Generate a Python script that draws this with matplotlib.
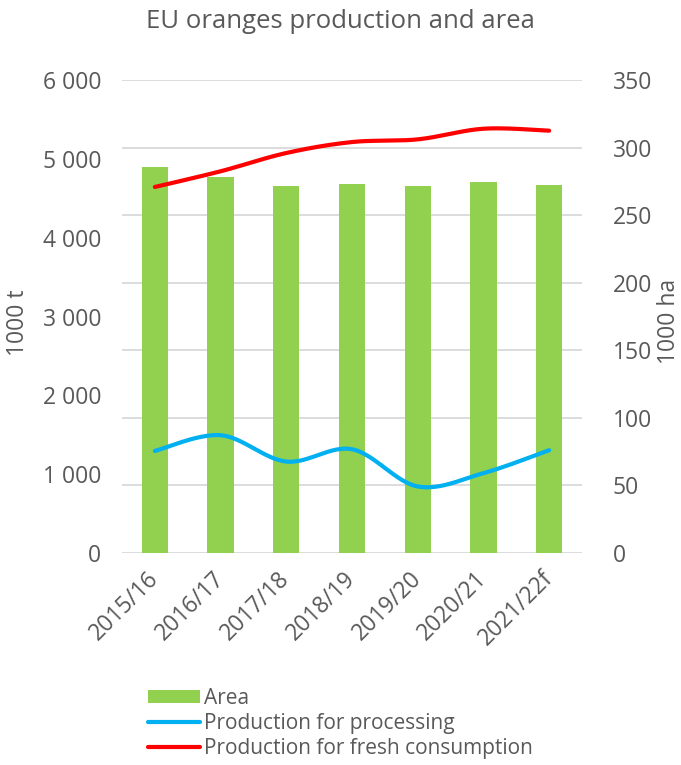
import matplotlib
matplotlib.use("Agg")
import matplotlib.pyplot as plt
import numpy as np
from matplotlib.lines import Line2D
from matplotlib.patches import Patch

categories = ["2015/16", "2016/17", "2017/18", "2018/19", "2019/20", "2020/21", "2021/22f"]
area = [285.4, 278.0, 271.8, 273.1, 271.3, 274.5, 272.6]          # 1000 ha
processing = [1295, 1494, 1160, 1316, 844, 1013, 1304]           # 1000 t
fresh = [4643, 4842, 5074, 5213, 5247, 5382, 5357]               # 1000 t
left_ticks = [0, 1000, 2000, 3000, 4000, 5000, 6000]
right_ticks = [0, 50, 100, 150, 200, 250, 300, 350]

TXT = "#595959"
plt.rcParams["font.family"] = ["Open Sans", "DejaVu Sans"]
FS = 16.5


def smooth(xs, ys, n=30):
    """Excel-like smoothed line (Catmull-Rom Bezier) through the data points."""
    xs = np.asarray(xs, float)
    ys = np.asarray(ys, float)
    px, py = [], []
    m = len(xs)
    for i in range(m - 1):
        i0, i3 = max(i - 1, 0), min(i + 2, m - 1)
        p0 = np.array([xs[i], ys[i]])
        p1 = np.array([xs[i + 1], ys[i + 1]])
        c1 = p0 + (np.array([xs[i + 1], ys[i + 1]]) - np.array([xs[i0], ys[i0]])) / 6
        c2 = p1 - (np.array([xs[i3], ys[i3]]) - np.array([xs[i], ys[i]])) / 6
        t = np.linspace(0, 1, n)[:, None]
        pts = ((1 - t) ** 3) * p0 + 3 * ((1 - t) ** 2) * t * c1 + 3 * (1 - t) * t ** 2 * c2 + t ** 3 * p1
        if i > 0:
            pts = pts[1:]
        px.extend(pts[:, 0])
        py.extend(pts[:, 1])
    return px, py


fig = plt.figure(figsize=(6.81, 7.65), dpi=100)
L, R, B, T = 122 / 681, 582 / 681, 1 - 553 / 765, 1 - 80 / 765
ax = fig.add_axes([L, B, R - L, T - B])
ax2 = ax.twinx()

x = np.arange(len(categories))

# bars (right axis)
ax2.bar(x, area, width=0.4, color="#92D050", zorder=2)
ax2.set_ylim(0, 350)
ax2.set_yticks(right_ticks)
ax2.set_yticklabels([str(v) for v in right_ticks])
ax2.grid(axis="y", color="#D9D9D9", linewidth=1.3, zorder=0)
ax2.set_axisbelow(True)

# lines (left axis)
sx, sy = smooth(x, processing)
ax.plot(sx, sy, color="#00B0F0", linewidth=3, solid_capstyle="round")
sx, sy = smooth(x, fresh)
ax.plot(sx, sy, color="#FF0000", linewidth=3, solid_capstyle="round")
ax.set_ylim(0, 6000)
ax.set_yticks(left_ticks)
ax.set_yticklabels([f"{v:,}".replace(",", " ") for v in left_ticks])
ax.set_xlim(-0.5, len(categories) - 0.5)
ax.set_xticks(x)
ax.set_xticklabels(categories, rotation=45, ha="right", va="center", rotation_mode="anchor")

ax.set_zorder(ax2.get_zorder() + 1)
ax.patch.set_visible(False)

for a in (ax, ax2):
    for s in a.spines.values():
        s.set_visible(False)
    a.tick_params(length=0, colors=TXT, labelsize=FS)
ax.tick_params(axis="y", pad=15)
ax2.tick_params(axis="y", pad=22)
ax.tick_params(axis="x", pad=16)

fig.text(18 / 681, 1 - 323 / 765, "1000 t", rotation=90, ha="center", va="center",
         fontsize=FS, color=TXT)
fig.text(669 / 681, 1 - 321 / 765, "1000 ha", rotation=90, ha="center", va="center",
         fontsize=FS, color=TXT)
fig.text(0.5, 1 - 22 / 765, "EU oranges production and area", ha="center", va="center",
         fontsize=18.5, color=TXT)

handles = [Patch(facecolor="#92D050", edgecolor="none"),
           Line2D([], [], color="#00B0F0", linewidth=3, solid_capstyle="round"),
           Line2D([], [], color="#FF0000", linewidth=3, solid_capstyle="round")]
labels = ["Area", "Production for processing", "Production for fresh consumption"]
leg = fig.legend(handles, labels, loc="upper left", bbox_to_anchor=(148 / 681, 1 - 688 / 765),
                 frameon=False, fontsize=15, handlelength=2.5, handleheight=0.6,
                 handletextpad=0.2, labelspacing=0.2, borderpad=0, borderaxespad=0)
for t in leg.get_texts():
    t.set_color(TXT)

fig.savefig("out.png", dpi=100)
